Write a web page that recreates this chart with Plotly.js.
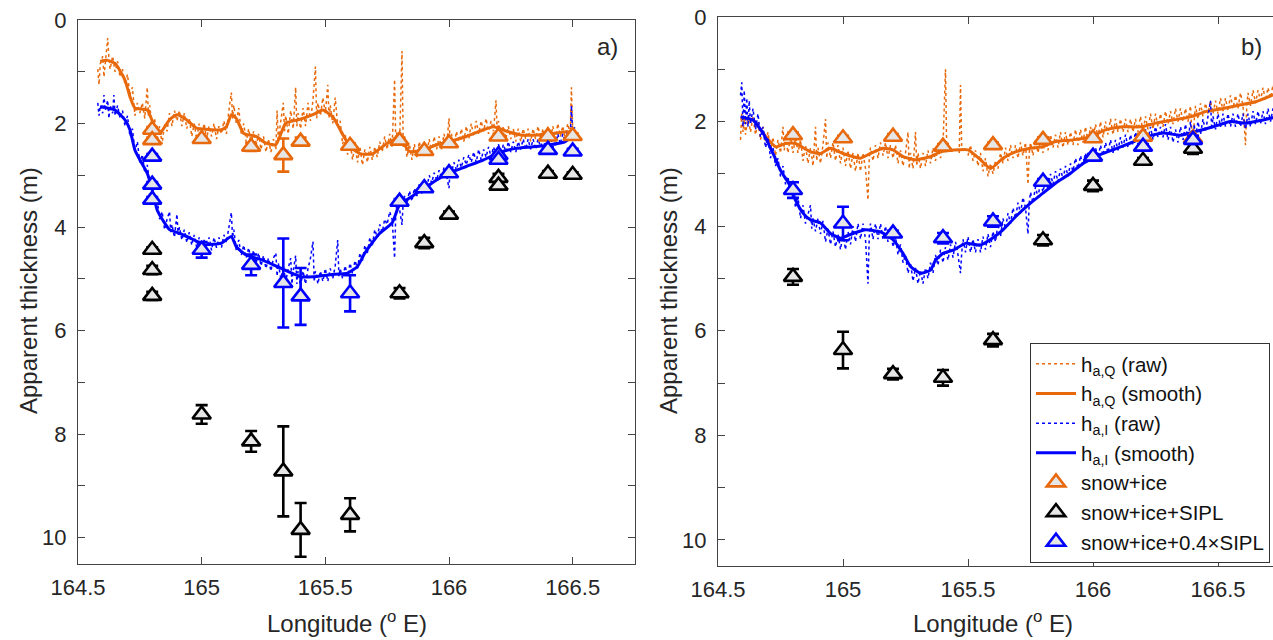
<!DOCTYPE html>
<html>
<head>
<meta charset="utf-8">
<script src="https://cdn.plot.ly/plotly-3.0.1.min.js"></script>
<style>
html,body{margin:0;padding:0;overflow:hidden;background:#fff;width:1273px;height:640px;}
#plot{width:1290px;height:640px;}
</style>
</head>
<body>
<div id="plot"></div>
<script>
// ---------- Panel a: raw & smooth apparent thickness [lon, h] ----------
const qRawA = [[164.58,0.95],[164.585,1.25],[164.59,0.85],[164.6,0.7],[164.605,1.1],[164.61,0.8],[164.62,0.35],[164.625,0.75],[164.63,0.95],[164.64,0.7],[164.65,1.0],[164.66,0.8],[164.67,1.1],[164.68,0.95],[164.69,1.25],[164.7,1.05],[164.71,1.45],[164.72,1.3],[164.73,1.85],[164.74,1.6],[164.75,1.8],[164.76,1.6],[164.77,1.9],[164.78,1.3],[164.785,1.85],[164.79,1.65],[164.8,2.1],[164.81,1.9],[164.82,2.35],[164.83,2.05],[164.84,2.4],[164.85,2.0],[164.86,2.15],[164.87,1.8],[164.88,2.05],[164.89,1.75],[164.9,1.95],[164.91,1.75],[164.92,2.05],[164.93,1.8],[164.94,2.1],[164.95,1.9],[164.96,2.25],[164.97,2.0],[164.98,2.3],[164.99,2.0],[165.0,2.25],[165.01,2.0],[165.02,2.3],[165.03,2.05],[165.04,2.25],[165.05,2.0],[165.06,2.3],[165.07,2.05],[165.08,2.2],[165.09,1.95],[165.1,2.2],[165.11,1.75],[165.12,1.4],[165.125,1.9],[165.13,1.65],[165.14,2.0],[165.15,1.7],[165.16,2.2],[165.17,2.0],[165.18,2.35],[165.19,2.1],[165.2,2.4],[165.21,2.15],[165.22,2.45],[165.23,2.2],[165.24,2.5],[165.25,2.25],[165.26,2.55],[165.27,2.3],[165.28,2.55],[165.29,2.3],[165.3,2.5],[165.305,1.75],[165.31,2.3],[165.32,1.9],[165.33,1.6],[165.335,2.15],[165.34,1.85],[165.35,2.2],[165.36,1.75],[165.37,2.1],[165.38,1.3],[165.385,2.05],[165.39,1.8],[165.4,2.1],[165.41,1.7],[165.42,2.05],[165.43,1.6],[165.44,1.95],[165.45,1.55],[165.46,0.9],[165.465,1.9],[165.47,1.6],[165.48,1.85],[165.49,1.5],[165.5,1.8],[165.51,1.25],[165.515,1.9],[165.52,1.65],[165.53,2.0],[165.54,1.5],[165.55,2.05],[165.56,1.95],[165.57,2.4],[165.58,2.2],[165.59,2.6],[165.6,2.35],[165.61,2.7],[165.62,2.4],[165.63,2.75],[165.64,2.45],[165.65,2.8],[165.66,2.5],[165.67,2.75],[165.68,2.45],[165.69,2.7],[165.7,2.45],[165.71,2.65],[165.72,2.35],[165.73,2.55],[165.74,2.25],[165.75,2.5],[165.76,2.2],[165.77,2.45],[165.78,1.15],[165.785,2.4],[165.79,2.15],[165.8,2.4],[165.81,0.6],[165.815,2.45],[165.82,2.25],[165.83,2.65],[165.84,2.4],[165.85,2.7],[165.86,2.4],[165.87,2.65],[165.88,2.35],[165.89,2.6],[165.9,2.35],[165.91,2.6],[165.92,2.3],[165.93,2.55],[165.94,2.25],[165.95,2.5],[165.96,2.25],[165.97,2.5],[165.98,2.2],[165.99,2.45],[166.0,1.9],[166.005,2.4],[166.01,2.2],[166.02,2.45],[166.03,2.15],[166.04,2.35],[166.05,2.1],[166.06,2.35],[166.07,2.05],[166.08,2.3],[166.09,2.0],[166.1,2.25],[166.11,1.95],[166.12,2.2],[166.13,1.95],[166.14,2.15],[166.15,1.9],[166.16,2.2],[166.17,1.95],[166.18,2.15],[166.19,1.55],[166.195,2.2],[166.2,1.95],[166.21,2.25],[166.22,2.05],[166.23,2.3],[166.24,2.05],[166.25,2.3],[166.26,2.1],[166.27,2.35],[166.28,2.1],[166.29,2.35],[166.3,2.1],[166.31,2.3],[166.32,2.1],[166.33,2.35],[166.34,2.1],[166.35,2.3],[166.36,2.05],[166.37,2.3],[166.38,2.1],[166.39,2.3],[166.4,2.05],[166.41,2.3],[166.42,2.05],[166.43,2.3],[166.44,2.0],[166.45,2.25],[166.46,2.05],[166.47,2.3],[166.48,2.0],[166.49,2.2],[166.495,1.3],[166.5,2.1],[166.51,2.25]];
const qSmoothA = [[164.59,0.8],[164.62,0.78],[164.65,0.84],[164.69,1.16],[164.71,1.48],[164.73,1.7],[164.78,1.74],[164.81,2.06],[164.83,2.19],[164.87,1.93],[164.9,1.83],[164.94,1.93],[164.98,2.09],[165.04,2.12],[165.08,2.12],[165.1,2.06],[165.12,1.83],[165.14,1.9],[165.17,2.19],[165.22,2.25],[165.26,2.38],[165.3,2.41],[165.34,1.99],[165.39,1.93],[165.45,1.83],[165.49,1.74],[165.53,1.87],[165.56,2.12],[165.6,2.45],[165.64,2.58],[165.69,2.59],[165.75,2.38],[165.8,2.28],[165.84,2.54],[165.9,2.51],[165.95,2.41],[166.0,2.35],[166.07,2.25],[166.14,2.12],[166.18,2.06],[166.24,2.16],[166.29,2.22],[166.36,2.22],[166.43,2.19],[166.48,2.16],[166.52,2.19]];
const iRawA = [[164.58,1.6],[164.585,1.85],[164.59,1.65],[164.6,1.8],[164.605,1.45],[164.61,1.75],[164.62,1.55],[164.625,1.9],[164.63,1.65],[164.64,1.8],[164.645,1.45],[164.65,1.85],[164.66,1.65],[164.67,1.9],[164.68,1.75],[164.69,2.05],[164.7,1.85],[164.71,2.25],[164.72,2.1],[164.73,2.55],[164.74,2.35],[164.75,2.75],[164.76,2.6],[164.77,2.95],[164.78,2.8],[164.79,3.15],[164.8,3.2],[164.81,3.55],[164.82,3.45],[164.83,3.85],[164.84,3.7],[164.85,4.05],[164.86,3.85],[164.87,3.7],[164.875,4.1],[164.88,3.95],[164.89,4.2],[164.9,3.75],[164.905,4.15],[164.91,4.0],[164.92,4.25],[164.93,4.05],[164.94,4.3],[164.95,4.1],[164.96,4.35],[164.97,4.15],[164.98,4.4],[164.99,4.2],[165.0,4.45],[165.01,4.25],[165.02,4.45],[165.03,4.2],[165.04,4.45],[165.05,4.2],[165.06,4.4],[165.07,4.2],[165.08,4.4],[165.09,4.15],[165.1,4.3],[165.11,4.0],[165.12,3.72],[165.125,4.2],[165.13,4.05],[165.14,4.45],[165.15,4.25],[165.16,4.55],[165.17,4.35],[165.18,4.6],[165.19,4.4],[165.2,4.65],[165.21,4.45],[165.22,4.7],[165.23,4.5],[165.24,4.75],[165.25,4.55],[165.26,4.8],[165.27,4.6],[165.28,4.85],[165.29,4.6],[165.3,4.5],[165.305,4.95],[165.31,4.7],[165.32,5.0],[165.33,4.75],[165.34,5.05],[165.35,4.8],[165.36,4.6],[165.365,5.1],[165.37,4.85],[165.38,4.55],[165.385,5.1],[165.39,4.85],[165.4,5.15],[165.41,4.85],[165.42,5.1],[165.43,4.8],[165.44,4.6],[165.45,4.28],[165.455,5.05],[165.46,4.85],[165.47,5.1],[165.48,4.85],[165.49,5.05],[165.5,4.8],[165.51,5.05],[165.52,4.8],[165.53,5.0],[165.54,4.75],[165.55,4.25],[165.555,4.95],[165.56,4.8],[165.57,5.0],[165.58,4.75],[165.59,4.95],[165.6,4.7],[165.61,4.9],[165.62,4.65],[165.63,4.8],[165.64,4.5],[165.65,4.65],[165.66,4.35],[165.67,4.5],[165.68,4.2],[165.69,4.35],[165.7,4.05],[165.71,4.2],[165.72,3.95],[165.73,4.1],[165.74,3.85],[165.75,3.95],[165.76,3.7],[165.77,3.85],[165.78,4.6],[165.785,3.7],[165.79,3.55],[165.8,3.65],[165.81,3.96],[165.815,3.5],[165.82,3.4],[165.83,3.55],[165.84,3.3],[165.85,3.5],[165.86,3.25],[165.87,3.4],[165.88,3.2],[165.89,3.35],[165.9,3.1],[165.91,3.25],[165.92,3.0],[165.93,3.15],[165.94,2.95],[165.95,3.1],[165.96,2.9],[165.97,3.05],[165.98,2.85],[165.99,3.0],[166.0,3.25],[166.005,2.85],[166.01,2.95],[166.02,2.75],[166.03,2.9],[166.04,2.7],[166.05,2.85],[166.06,2.65],[166.07,2.8],[166.08,2.6],[166.09,2.75],[166.1,2.55],[166.11,2.75],[166.12,2.5],[166.13,2.7],[166.14,2.5],[166.15,2.65],[166.16,2.45],[166.17,2.65],[166.18,2.45],[166.19,2.6],[166.2,2.4],[166.21,2.6],[166.22,2.4],[166.23,2.55],[166.24,2.35],[166.25,2.55],[166.26,2.35],[166.27,2.55],[166.28,2.35],[166.29,2.5],[166.3,2.3],[166.31,2.5],[166.32,2.3],[166.33,2.5],[166.34,2.3],[166.35,2.5],[166.36,2.3],[166.37,2.45],[166.38,2.3],[166.39,2.45],[166.4,2.25],[166.41,2.45],[166.42,2.25],[166.43,2.45],[166.44,2.2],[166.45,2.4],[166.46,2.2],[166.47,2.35],[166.48,2.15],[166.49,2.3],[166.495,1.65],[166.5,2.2],[166.51,2.05]];
const iSmoothA = [[164.59,1.67],[164.65,1.74],[164.69,1.93],[164.71,2.12],[164.73,2.51],[164.75,2.7],[164.78,2.96],[164.8,3.28],[164.82,3.67],[164.85,3.92],[164.87,4.05],[164.91,4.12],[164.97,4.25],[165.01,4.34],[165.08,4.31],[165.12,4.18],[165.14,4.38],[165.18,4.54],[165.24,4.63],[165.29,4.73],[165.35,4.86],[165.4,4.96],[165.45,4.96],[165.52,4.92],[165.59,4.89],[165.63,4.76],[165.66,4.5],[165.69,4.3],[165.72,4.12],[165.77,3.92],[165.8,3.57],[165.85,3.41],[165.9,3.25],[165.95,3.09],[166.0,2.96],[166.07,2.83],[166.14,2.7],[166.2,2.57],[166.27,2.48],[166.34,2.45],[166.41,2.41],[166.47,2.35],[166.51,2.19]];

// ---------- Panel a: drill-hole estimates ----------
const lonSnowIceA = [164.8,164.8,165.0,165.2,165.33,165.4,165.6,165.8,165.9,166.0,166.2,166.4,166.5];
const hSnowIceA   = [2.12,2.32,2.30,2.45,2.61,2.35,2.43,2.33,2.53,2.38,2.25,2.25,2.24];
const eSnowIceA   = [0.05,0.05,0.05,0.08,0.32,0.08,0.05,0.05,0.05,0.05,0.05,0.05,0.05];
const lonSiplA = [164.8,164.8,164.8,165.0,165.2,165.33,165.4,165.6,165.8,165.9,166.0,166.2,166.2,166.4,166.5];
const hSiplA   = [4.44,4.83,5.33,7.62,8.14,8.72,9.85,9.56,5.28,4.31,3.76,3.05,3.20,2.97,2.99];
const eSiplA   = [0.05,0.08,0.08,0.18,0.2,0.87,0.52,0.32,0.1,0.1,0.06,0.08,0.08,0.05,0.05];
const hSipl04A = [2.64,3.18,3.47,4.44,4.73,5.08,5.34,5.28,3.51,3.25,2.96,2.61,2.70,2.51,2.54];
const eSipl04A = [0.05,0.05,0.05,0.15,0.2,0.86,0.55,0.35,0.05,0.05,0.05,0.05,0.05,0.05,0.05];

// ---------- Panel b: raw & smooth [lon, h] ----------
const qRawB = [[164.59,2.35],[164.595,1.85],[164.6,2.2],[164.605,1.95],[164.61,2.25],[164.62,1.9],[164.63,2.2],[164.64,1.9],[164.65,2.25],[164.66,2.0],[164.67,2.35],[164.68,2.1],[164.69,2.45],[164.7,2.2],[164.71,2.55],[164.72,2.3],[164.73,2.65],[164.74,2.35],[164.75,2.6],[164.76,2.1],[164.765,2.55],[164.77,2.3],[164.78,2.6],[164.79,2.3],[164.8,2.6],[164.81,2.3],[164.82,2.6],[164.83,2.35],[164.84,2.75],[164.85,2.45],[164.86,2.8],[164.87,2.5],[164.88,2.85],[164.89,2.1],[164.895,2.75],[164.9,2.5],[164.91,2.8],[164.92,2.45],[164.93,1.95],[164.935,2.7],[164.94,2.4],[164.95,2.7],[164.96,2.4],[164.97,2.75],[164.98,2.45],[164.99,2.8],[165.0,2.5],[165.01,2.85],[165.02,2.55],[165.03,2.9],[165.04,2.6],[165.05,2.95],[165.06,2.6],[165.07,2.95],[165.08,2.6],[165.09,2.9],[165.1,3.5],[165.105,2.7],[165.11,2.5],[165.12,2.75],[165.13,2.45],[165.14,2.7],[165.15,2.4],[165.16,2.65],[165.17,2.4],[165.18,2.7],[165.19,2.45],[165.2,2.7],[165.21,2.45],[165.22,2.8],[165.23,2.55],[165.24,2.85],[165.25,2.6],[165.26,2.2],[165.265,2.9],[165.27,2.6],[165.28,2.9],[165.29,2.2],[165.295,2.85],[165.3,2.6],[165.31,2.9],[165.32,2.6],[165.33,2.85],[165.34,2.55],[165.35,2.8],[165.36,2.5],[165.37,2.75],[165.38,2.5],[165.39,2.7],[165.4,2.45],[165.41,1.0],[165.415,2.6],[165.44,null],[165.465,2.6],[165.47,1.3],[165.475,2.55],[165.49,null],[165.5,2.65],[165.51,2.45],[165.52,2.75],[165.53,2.55],[165.54,2.85],[165.55,2.6],[165.56,2.95],[165.57,2.7],[165.58,3.05],[165.59,2.8],[165.6,3.0],[165.61,2.75],[165.62,2.9],[165.63,2.6],[165.64,2.8],[165.65,2.5],[165.66,2.75],[165.67,2.45],[165.68,2.7],[165.69,2.45],[165.7,2.7],[165.71,2.4],[165.72,2.65],[165.73,2.4],[165.74,3.2],[165.745,2.6],[165.75,2.4],[165.76,2.65],[165.77,2.35],[165.78,2.6],[165.79,2.35],[165.8,2.6],[165.81,2.3],[165.82,2.55],[165.83,2.25],[165.84,2.5],[165.85,2.25],[165.86,2.5],[165.87,2.2],[165.88,2.5],[165.89,2.2],[165.9,2.45],[165.91,2.2],[165.92,2.45],[165.93,2.15],[165.94,2.45],[165.95,2.15],[165.96,2.4],[165.97,2.1],[165.98,2.4],[165.99,2.1],[166.0,2.35],[166.01,2.05],[166.02,2.3],[166.03,2.0],[166.04,2.3],[166.05,2.0],[166.06,2.25],[166.07,1.95],[166.08,2.25],[166.09,1.95],[166.1,2.2],[166.11,1.95],[166.12,2.2],[166.13,1.95],[166.14,2.2],[166.15,1.95],[166.16,2.2],[166.17,1.95],[166.18,2.2],[166.19,1.9],[166.2,2.2],[166.21,1.9],[166.22,2.15],[166.23,1.85],[166.24,2.15],[166.25,1.85],[166.26,2.1],[166.27,1.85],[166.28,2.1],[166.29,1.8],[166.3,2.05],[166.31,1.8],[166.32,2.05],[166.33,1.75],[166.34,2.0],[166.35,1.75],[166.36,2.0],[166.37,1.75],[166.38,2.0],[166.39,1.7],[166.4,2.6],[166.405,1.95],[166.41,1.7],[166.42,1.95],[166.43,1.65],[166.44,1.9],[166.45,1.65],[166.46,1.85],[166.47,1.6],[166.48,1.85],[166.49,1.6],[166.5,1.85],[166.51,1.55],[166.52,1.8],[166.53,1.55],[166.54,1.8],[166.55,1.5],[166.56,1.75],[166.57,1.5],[166.58,1.75],[166.59,1.45],[166.6,1.7],[166.61,2.45],[166.615,1.7],[166.62,1.45],[166.63,1.7],[166.64,1.4],[166.65,1.65],[166.66,1.4],[166.67,1.6],[166.68,1.35],[166.69,1.6],[166.7,1.35],[166.71,1.55],[166.72,1.3],[166.73,1.5],[166.74,1.3]];
const qSmoothB = [[164.59,1.94],[164.64,1.97],[164.68,2.22],[164.73,2.48],[164.77,2.42],[164.81,2.42],[164.87,2.58],[164.91,2.61],[164.95,2.51],[165.0,2.61],[165.07,2.7],[165.11,2.61],[165.16,2.51],[165.2,2.54],[165.24,2.67],[165.29,2.73],[165.35,2.67],[165.39,2.58],[165.5,2.54],[165.55,2.73],[165.59,2.9],[165.64,2.7],[165.69,2.58],[165.75,2.51],[165.8,2.48],[165.85,2.38],[165.92,2.35],[165.99,2.29],[166.05,2.16],[166.12,2.1],[166.19,2.1],[166.25,2.03],[166.32,1.97],[166.39,1.91],[166.45,1.81],[166.52,1.75],[166.59,1.68],[166.65,1.62],[166.74,1.45]];
const iRawB = [[164.59,1.5],[164.595,1.25],[164.6,2.1],[164.605,1.4],[164.61,2.05],[164.615,1.55],[164.62,2.1],[164.625,1.6],[164.63,2.05],[164.64,1.75],[164.65,2.15],[164.66,1.85],[164.67,2.3],[164.68,2.1],[164.69,2.5],[164.7,2.3],[164.71,2.7],[164.72,2.5],[164.73,2.85],[164.74,2.7],[164.75,3.05],[164.76,2.85],[164.77,3.2],[164.78,3.05],[164.79,3.4],[164.8,3.25],[164.81,3.65],[164.82,3.45],[164.83,3.85],[164.84,3.6],[164.85,3.95],[164.86,3.75],[164.87,3.6],[164.875,4.05],[164.88,3.85],[164.89,4.1],[164.9,3.85],[164.91,4.15],[164.92,3.9],[164.93,4.3],[164.94,4.05],[164.95,4.35],[164.96,4.1],[164.97,4.4],[164.98,4.15],[164.99,4.45],[165.0,4.15],[165.01,4.45],[165.02,4.1],[165.03,4.35],[165.04,4.0],[165.05,4.3],[165.06,3.95],[165.07,4.25],[165.08,3.95],[165.09,4.25],[165.1,5.1],[165.105,4.2],[165.11,3.95],[165.12,4.25],[165.13,3.95],[165.14,4.25],[165.15,3.95],[165.16,4.25],[165.17,4.0],[165.18,4.3],[165.19,4.05],[165.2,4.4],[165.21,4.2],[165.22,4.55],[165.23,4.35],[165.24,4.7],[165.25,4.55],[165.26,4.9],[165.27,4.7],[165.28,5.05],[165.29,4.8],[165.3,5.1],[165.31,4.85],[165.32,5.1],[165.33,4.8],[165.34,5.0],[165.35,4.7],[165.36,4.9],[165.37,4.55],[165.38,4.75],[165.39,4.45],[165.4,4.7],[165.41,4.4],[165.42,4.65],[165.43,4.35],[165.44,4.6],[165.45,4.3],[165.46,4.55],[165.47,4.9],[165.475,4.5],[165.48,4.25],[165.49,4.5],[165.5,4.2],[165.51,4.5],[165.52,4.25],[165.53,4.5],[165.54,4.25],[165.55,4.5],[165.56,4.2],[165.57,4.45],[165.58,4.15],[165.59,4.4],[165.6,4.1],[165.61,4.3],[165.62,3.95],[165.63,4.2],[165.64,3.85],[165.65,4.05],[165.66,3.75],[165.67,3.95],[165.68,3.65],[165.69,3.85],[165.7,3.55],[165.71,3.75],[165.72,3.45],[165.73,3.65],[165.74,4.15],[165.745,3.55],[165.75,3.35],[165.76,3.55],[165.77,3.25],[165.78,3.45],[165.79,3.15],[165.8,3.35],[165.81,3.1],[165.82,3.3],[165.83,3.0],[165.84,3.2],[165.85,2.95],[165.86,3.15],[165.87,2.9],[165.88,3.1],[165.89,2.85],[165.9,3.05],[165.91,2.8],[165.92,2.95],[165.93,2.7],[165.94,2.9],[165.95,2.65],[165.96,2.85],[165.97,2.6],[165.98,2.8],[165.99,2.55],[166.0,2.75],[166.01,2.5],[166.02,2.7],[166.03,2.45],[166.04,2.65],[166.05,2.4],[166.06,2.6],[166.07,2.35],[166.08,2.6],[166.09,2.35],[166.1,2.55],[166.11,2.3],[166.12,2.5],[166.13,2.25],[166.14,2.5],[166.15,2.25],[166.16,2.45],[166.17,2.2],[166.18,2.4],[166.19,2.15],[166.2,2.4],[166.21,2.15],[166.22,2.35],[166.23,2.1],[166.24,2.35],[166.25,2.1],[166.26,2.3],[166.27,2.1],[166.28,2.3],[166.29,2.05],[166.3,2.35],[166.31,2.1],[166.32,2.4],[166.33,2.15],[166.34,2.4],[166.35,2.1],[166.36,2.35],[166.37,2.05],[166.38,2.35],[166.39,2.0],[166.4,2.5],[166.405,2.05],[166.41,2.3],[166.42,2.0],[166.43,2.25],[166.44,1.95],[166.45,2.2],[166.46,1.9],[166.47,1.6],[166.475,2.15],[166.48,1.9],[166.49,2.15],[166.5,1.85],[166.51,2.1],[166.52,1.85],[166.53,2.1],[166.54,1.85],[166.55,2.1],[166.56,1.85],[166.57,2.1],[166.58,1.85],[166.59,2.1],[166.6,1.85],[166.61,2.15],[166.62,1.85],[166.63,2.1],[166.64,1.8],[166.65,2.05],[166.66,1.8],[166.67,2.05],[166.68,1.8],[166.69,2.05],[166.7,1.75],[166.71,2.0],[166.72,1.75],[166.73,2.0],[166.74,1.75]];
const iSmoothB = [[164.59,1.91],[164.64,1.97],[164.68,2.22],[164.72,2.61],[164.75,2.93],[164.79,3.24],[164.81,3.5],[164.84,3.75],[164.87,3.88],[164.91,3.94],[164.95,4.14],[164.99,4.23],[165.04,4.14],[165.09,4.07],[165.15,4.11],[165.2,4.26],[165.24,4.52],[165.27,4.77],[165.31,4.9],[165.35,4.84],[165.37,4.65],[165.4,4.52],[165.44,4.46],[165.49,4.33],[165.55,4.36],[165.6,4.22],[165.64,4.07],[165.69,3.82],[165.75,3.56],[165.8,3.37],[165.85,3.18],[165.91,2.99],[165.96,2.8],[166.01,2.67],[166.08,2.54],[166.15,2.41],[166.21,2.29],[166.28,2.22],[166.35,2.26],[166.41,2.19],[166.48,2.1],[166.55,2.0],[166.61,2.03],[166.68,1.97],[166.74,1.9]];

// ---------- Panel b: drill-hole estimates ----------
const lonB      = [164.8,165.0,165.2,165.4,165.6,165.8,166.0,166.2,166.4];
const hSnowIceB = [2.26,2.32,2.29,2.48,2.45,2.35,2.32,2.29,2.32];
const eSnowIceB = [0.05,0.05,0.05,0.05,0.05,0.05,0.05,0.05,0.05];
const hSiplB    = [4.97,6.37,6.83,6.90,6.18,4.27,3.23,2.75,2.52];
const eSiplB    = [0.15,0.35,0.1,0.15,0.12,0.1,0.1,0.05,0.1];
const hSipl04B  = [3.31,3.95,4.14,4.23,3.91,3.15,2.67,2.48,2.35];
const eSipl04B  = [0.15,0.32,0.05,0.1,0.1,0.05,0.05,0.05,0.08];

// ---------- Labels ----------
const legendNames = ['h<sub>a,Q</sub> (raw)','h<sub>a,Q</sub> (smooth)','h<sub>a,I</sub> (raw)','h<sub>a,I</sub> (smooth)','snow+ice','snow+ice+SIPL','snow+ice+0.4\u00d7SIPL'];
const xTickVals = [164.5,165,165.5,166,166.5];
const xTickText = ['164.5','165','165.5','166','166.5'];
const yTickVals = [0,2,4,6,8,10];
const xTitle = 'Longitude (<sup>o</sup> E)';
const yTitle = 'Apparent thickness (m)';
const panelLabels = ['a)','b)'];

// ---------- styling ----------
const ORANGE = '#e8690b', BLUE = '#0000ff', BLACK = '#000000', FILL = '#e6e6e6';
const FONT = 'Liberation Sans, Arial, Helvetica, sans-serif';
const TXT = '#262626';
const col = (arr, i) => arr.map(p => p[i]);

function panelTraces(xa, ya, qRaw, qSm, iRaw, iSm, lonS, hS, eS, lonK, hK, eK, hB, eB, show) {
  const mk = (c) => ({symbol: 'triangle-up', size: 16, color: FILL, line: {color: c, width: 2.6}});
  const eb = (arr, c) => ({type: 'data', array: arr, visible: true, color: c, thickness: 2.6, width: 6});
  return [
    {x: col(qRaw,0), y: col(qRaw,1), xaxis: xa, yaxis: ya, mode: 'lines', name: legendNames[0], showlegend: show, connectgaps: false,
     line: {color: ORANGE, width: 1.5, dash: 'dot'}},
    {x: col(qSm,0), y: col(qSm,1), xaxis: xa, yaxis: ya, mode: 'lines', name: legendNames[1], showlegend: show,
     line: {color: ORANGE, width: 3, shape: 'spline', smoothing: 0.5}},
    {x: col(iRaw,0), y: col(iRaw,1), xaxis: xa, yaxis: ya, mode: 'lines', name: legendNames[2], showlegend: show,
     line: {color: BLUE, width: 1.5, dash: 'dot'}},
    {x: col(iSm,0), y: col(iSm,1), xaxis: xa, yaxis: ya, mode: 'lines', name: legendNames[3], showlegend: show,
     line: {color: BLUE, width: 3, shape: 'spline', smoothing: 0.5}},
    {x: lonS, y: hS, xaxis: xa, yaxis: ya, mode: 'markers', name: legendNames[4], showlegend: show,
     marker: mk(ORANGE), error_y: eb(eS, ORANGE)},
    {x: lonK, y: hK, xaxis: xa, yaxis: ya, mode: 'markers', name: legendNames[5], showlegend: show,
     marker: mk(BLACK), error_y: eb(eK, BLACK)},
    {x: lonK, y: hB, xaxis: xa, yaxis: ya, mode: 'markers', name: legendNames[6], showlegend: show,
     marker: mk(BLUE), error_y: eb(eB, BLUE)}
  ];
}

const data = [].concat(
  panelTraces('x', 'y', qRawA, qSmoothA, iRawA, iSmoothA, lonSnowIceA, hSnowIceA, eSnowIceA, lonSiplA, hSiplA, eSiplA, hSipl04A, eSipl04A, false),
  panelTraces('x2', 'y2', qRawB, qSmoothB, iRawB, iSmoothB, lonB, hSnowIceB, eSnowIceB, lonB, hSiplB, eSiplB, hSipl04B, eSipl04B, true)
);

const W = 1290, H = 640;
const xAxisBase = (l, r) => ({
  domain: [l / W, r / W], range: [164.5, 166.75], tickvals: xTickVals, ticktext: xTickText,
  ticks: 'inside', ticklen: 7, tickcolor: '#444', tickwidth: 1, showline: true, linecolor: '#444', linewidth: 1,
  mirror: 'ticks', showgrid: false, zeroline: false, automargin: false, ticklabelstandoff: 4,
  tickfont: {family: FONT, size: 22, color: TXT}
});
const yAxisBase = (top, bot) => ({
  domain: [1 - bot / H, 1 - top / H], range: [10.5, 0], tickvals: yTickVals,
  ticks: 'inside', ticklen: 7, tickcolor: '#444', tickwidth: 1, showline: true, linecolor: '#444', linewidth: 1,
  mirror: 'ticks', showgrid: false, zeroline: false, automargin: false, ticklabelstandoff: 6,
  minor: {dtick: 1, tick0: 0, ticks: 'inside', ticklen: 7, tickcolor: '#444', showgrid: false},
  tickfont: {family: FONT, size: 22, color: TXT}
});

const ann = (x, y, text, size, angle) => ({xref: 'paper', yref: 'paper', x: x / W, y: 1 - y / H, xanchor: 'center', yanchor: 'middle',
  text: text, showarrow: false, textangle: angle || 0, font: {family: FONT, size: size, color: TXT}});

const layout = {
  width: W, height: H,
  margin: {l: 0, r: 0, t: 0, b: 0},
  paper_bgcolor: '#ffffff', plot_bgcolor: '#ffffff',
  showlegend: true,
  xaxis: Object.assign(xAxisBase(78, 634.5), {anchor: 'y'}),
  yaxis: Object.assign(yAxisBase(20, 563.5), {anchor: 'x'}),
  xaxis2: Object.assign(xAxisBase(718, 1280.5), {anchor: 'y2'}),
  yaxis2: Object.assign(yAxisBase(17, 566), {anchor: 'x2'}),
  legend: {
    x: 1270 / W, y: 1 - 343 / H, xanchor: 'right', yanchor: 'top',
    bgcolor: '#ffffff', bordercolor: '#333', borderwidth: 1,
    font: {family: FONT, size: 20.5, color: '#111'}, tracegroupgap: 0, itemwidth: 40
  },
  annotations: [
    ann(607, 46, panelLabels[0], 24),
    ann(1251, 46, panelLabels[1], 24),
    ann(347, 622, xTitle, 24),
    ann(993, 622, xTitle, 24),
    ann(28, 291, yTitle, 24, -90),
    ann(668, 291, yTitle, 24, -90)
  ]
};

Plotly.newPlot('plot', data, layout, {displayModeBar: false, staticPlot: true});
</script>
</body>
</html>
